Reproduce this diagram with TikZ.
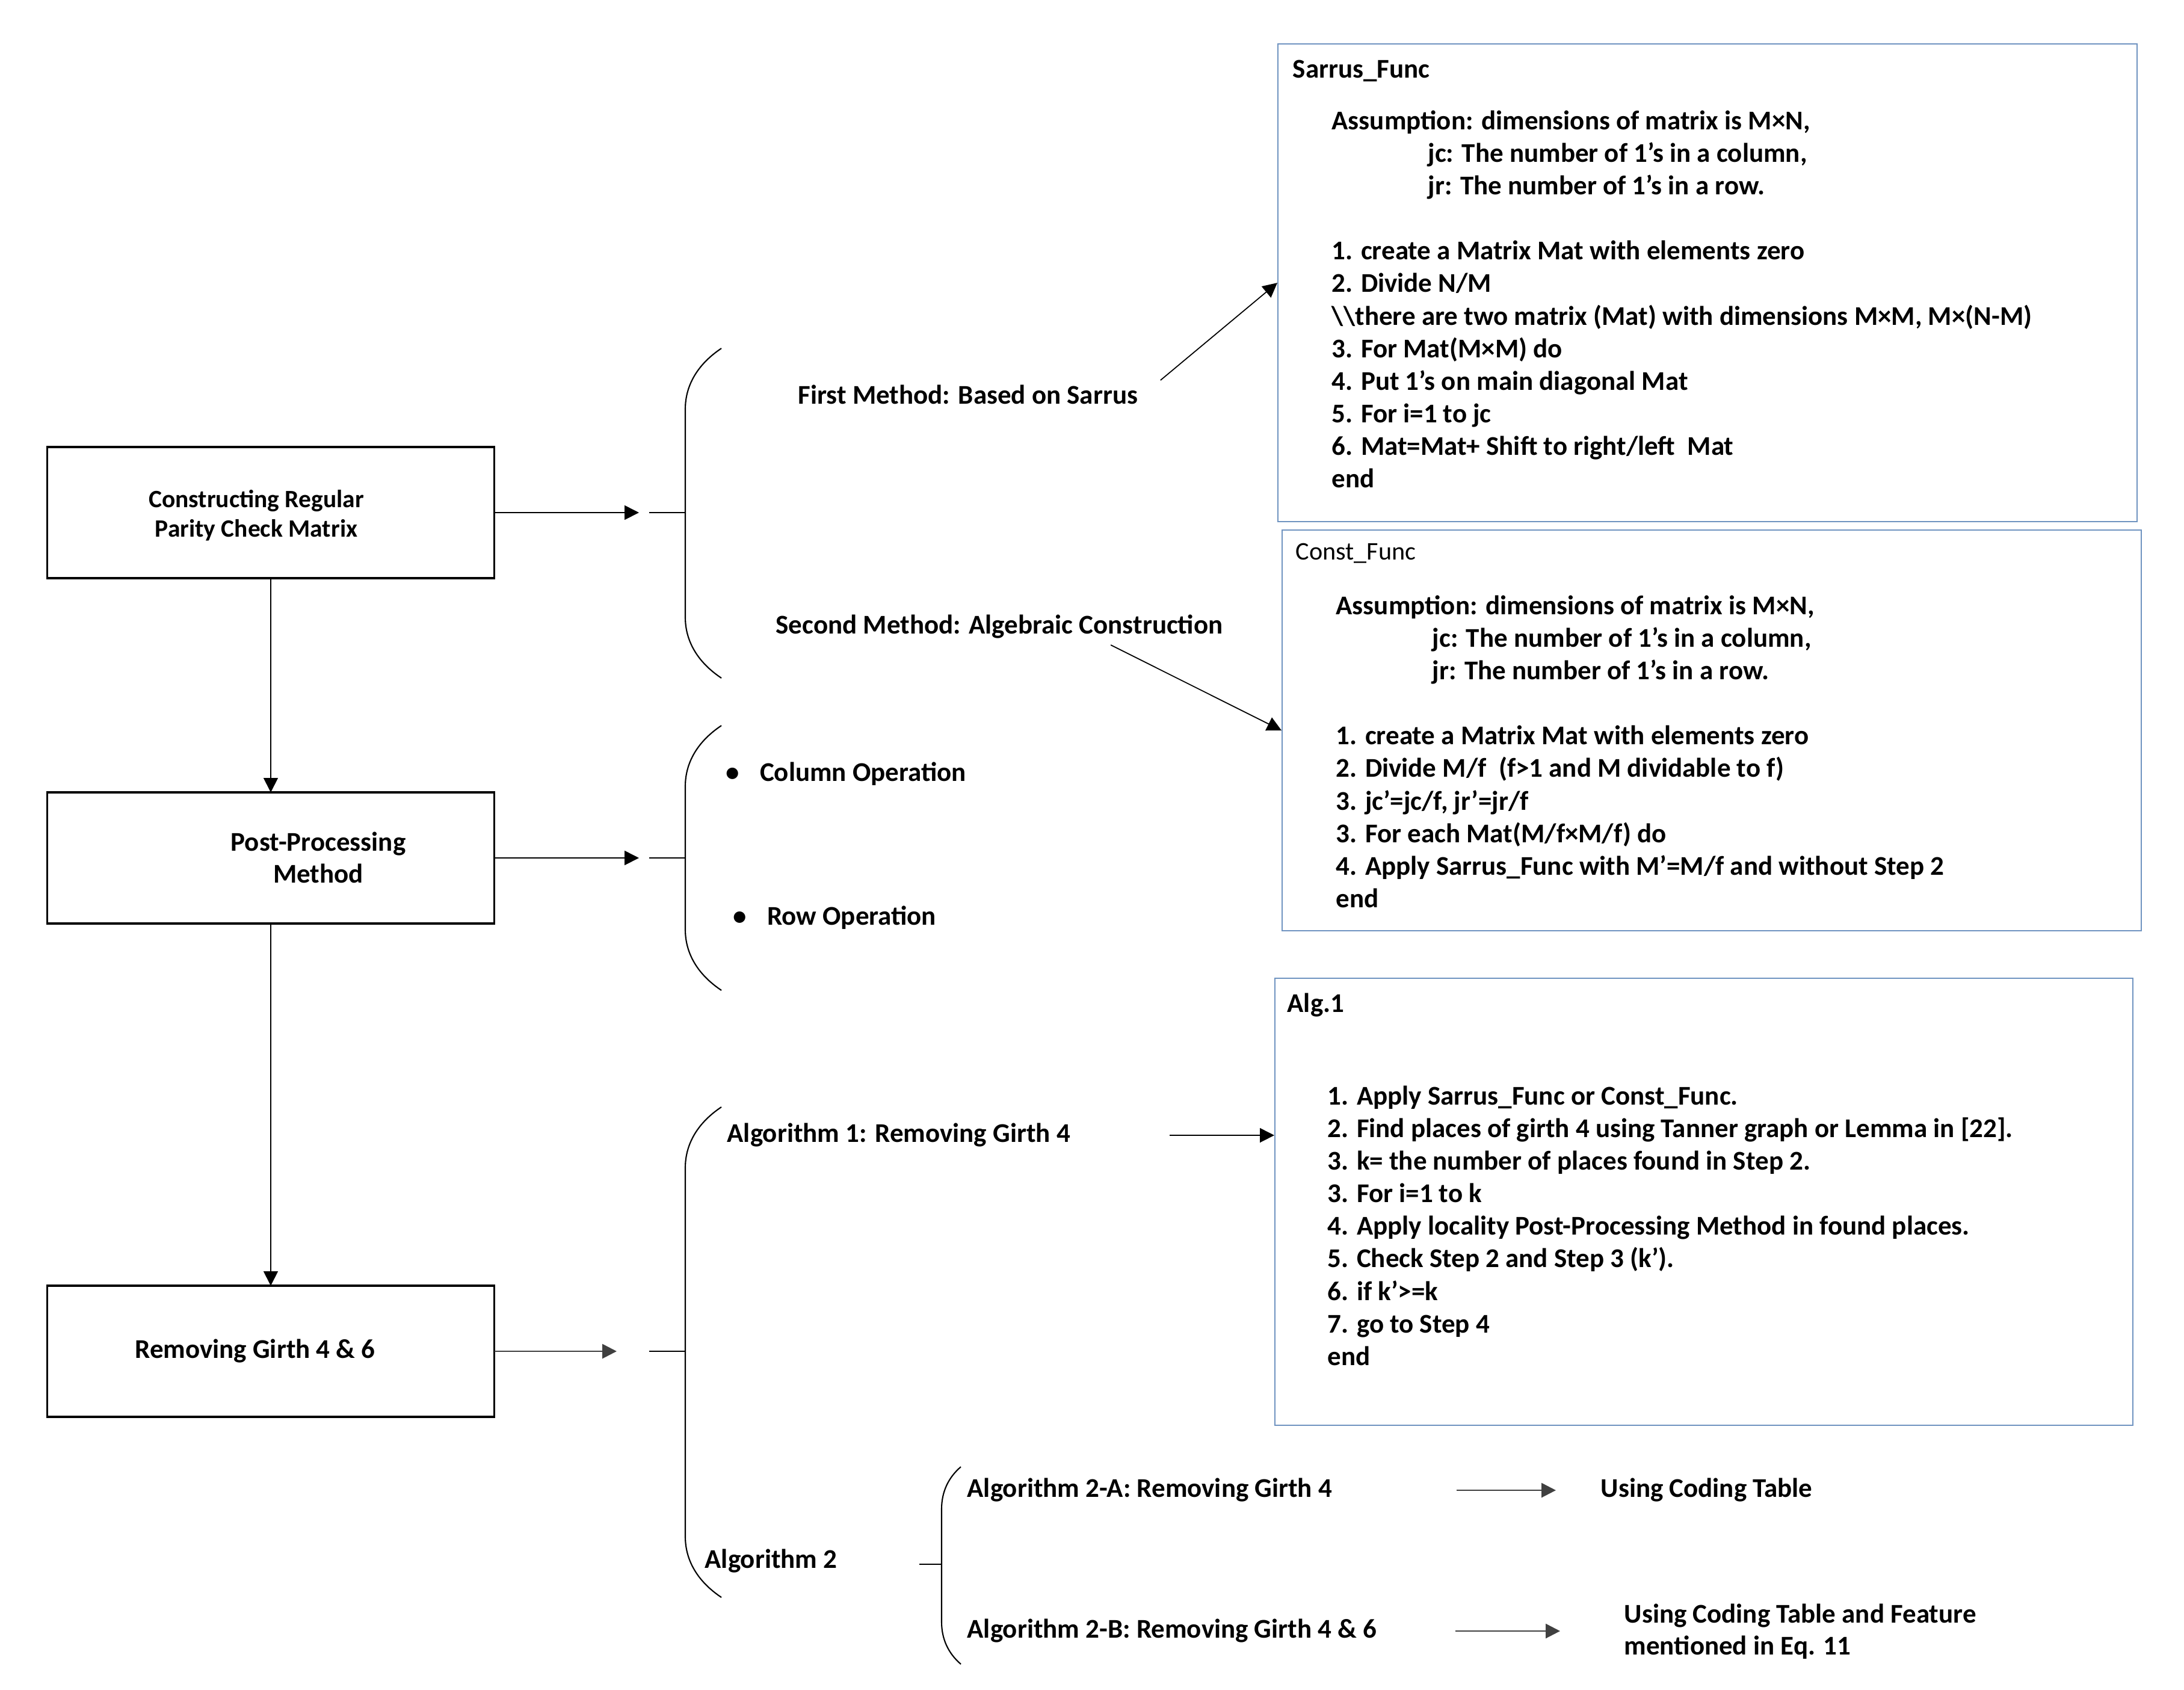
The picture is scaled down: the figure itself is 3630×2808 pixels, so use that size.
\documentclass[tikz,border=0pt]{standalone}
\usepackage{fontspec}
\setmainfont{Carlito}
\usetikzlibrary{arrows.meta, positioning}
\definecolor{pcBlue}{HTML}{6F93C0}
\definecolor{pcShade}{HTML}{404040}
\tikzset{
  mainbox/.style={draw, line width=1pt, outer sep=0pt, minimum width=74.3mm, minimum height=21.8mm},
  algbox/.style={draw=pcBlue, line width=0.6pt, anchor=north west, inner sep=0pt},
  lbl/.style={font=\fontsize{12.8}{15.4}\selectfont\bfseries, anchor=west, inner sep=0pt,
    text height=3.2mm, text depth=0.9mm},
  mlbl/.style={font=\fontsize{12.8}{15}\selectfont\bfseries, inner sep=0pt, align=center},
  body/.style={font=\fontsize{12.8}{15.4}\selectfont\bfseries, anchor=north west,
    align=left, inner sep=0pt},
  link/.style={-{Triangle[length=2.4mm, width=2.4mm]}, line width=0.5pt},
  glink/.style={link, line width=0.8pt, pcShade},
  stub/.style={line width=0.5pt},
  bracket/.style={line width=0.6pt}
}
\begin{document}
\begin{tikzpicture}[x=0.1mm, y=-0.1mm]
  \useasboundingbox (0,0) rectangle (3630,2808);

  % left column
  \node[mainbox] (cons) at (450,852) {};
  \node[mainbox, below=35.6mm of cons] (post) {};
  \node[mainbox, below=60.2mm of post] (rem) {};
  \node[mlbl, font=\fontsize{11.8}{13.9}\selectfont\bfseries] (cons-t) at (426,857)
    {Constructing Regular\\Parity Check Matrix};
  \node[mlbl] (post-t) at (529,1425) {Post-Processing\\Method};
  \node[mlbl] (rem-t) at (424,2245) {Removing Girth 4 \& 6};
  \draw[link] (cons) -- (post);
  \draw[link] (post) -- (rem);

  % brace points
  \coordinate (b1) at (cons.east -| 1139,0);
  \coordinate (b2) at (post.east -| 1139,0);
  \coordinate (b3) at (rem.east -| 1139,0);
  \coordinate (b4) at (1565,2600);
  \draw[link] (cons.east) -- ([xshift=-7.7mm]b1);
  \draw[link] (post.east) -- ([xshift=-7.7mm]b2);
  \draw[glink] (rem.east) -- ([xshift=-11.4mm]b3);
  \draw[stub] ([xshift=-6mm]b1) -- (b1);
  \draw[stub] ([xshift=-6mm]b2) -- (b2);
  \draw[stub] ([xshift=-6mm]b3) -- (b3);
  \draw[stub] ([xshift=-3.7mm]b4) -- (b4);

  \draw[bracket] (1199,579) .. controls (1160,605) and (1139,640) .. (1139,680)
    -- (1139,1026) .. controls (1139,1066) and (1160,1101) .. (1199,1127);
  \draw[bracket] (1199,1206) .. controls (1160,1232) and (1139,1267) .. (1139,1307)
    -- (1139,1545) .. controls (1139,1585) and (1160,1620) .. (1199,1646);
  \draw[bracket] (1199,1840) .. controls (1160,1866) and (1139,1901) .. (1139,1941)
    -- (1139,2554) .. controls (1139,2594) and (1160,2629) .. (1199,2655);
  \draw[bracket] (1597,2438) .. controls (1576,2456) and (1565,2480) .. (1565,2508)
    -- (1565,2696) .. controls (1565,2724) and (1576,2748) .. (1597,2766);

  % branch labels
  \node[lbl] (fm) at (1326,660) {First Method: Based on Sarrus};
  \node[lbl] (sm) at (1289,1042) {Second Method: Algebraic Construction};
  \node[lbl] (colop) at (1206,1287) {\textbullet\hspace{3.4mm}Column Operation};
  \node[lbl] (rowop) at (1218,1526) {\textbullet\hspace{3.4mm}Row Operation};
  \node[lbl] (a1) at (1208,1887) {Algorithm 1: Removing Girth 4};
  \node[lbl] (a2) at (1171,2595) {Algorithm 2};
  \node[lbl] (a2a) at (1607,2477) {Algorithm 2-A: Removing Girth 4};
  \node[lbl] (a2b) at (1607,2711) {Algorithm 2-B: Removing Girth 4 \& 6};
  \node[lbl] (ct1) at (2660,2477) {Using Coding Table};
  \node[mlbl, font=\fontsize{12.8}{15.2}\selectfont\bfseries, align=left, anchor=west] (ct2) at (2699,2712)
    {Using Coding Table and Feature\\mentioned in Eq. 11};

  % algorithm boxes
  \node[algbox, minimum width=142.8mm, minimum height=79.4mm] (sarrus) at (2123,72) {};
  \node[algbox, minimum width=142.8mm, minimum height=66.6mm] (const) at (2130,880) {};
  \node[algbox, minimum width=142.6mm, minimum height=74.3mm] (alg) at (2118,1625) {};

  \node[lbl] (sarrus-t) at (2148,118) {Sarrus\_Func};
  \node[body] (sarrus-b) at (2213,183) {Assumption: dimensions of matrix is M×N,\\
    \hspace*{16mm}jc: The number of 1's in a column,\\
    \hspace*{16mm}jr: The number of 1's in a row.\\[15.4pt]
    1. create a Matrix Mat with elements zero\\
    2. Divide N/M\\
    \textbackslash\textbackslash there are two matrix (Mat) with dimensions M×M, M×(N-M)\\
    3. For Mat(M×M) do\\
    4. Put 1's on main diagonal Mat\\
    5. For i=1 to jc\\
    6. Mat=Mat+ Shift to right/left~ Mat\\
    end};

  \node[lbl, font=\fontsize{12}{15.4}\selectfont] (const-t) at (2153,919) {Const\_Func};
  \node[body] (const-b) at (2220,989) {Assumption: dimensions of matrix is M×N,\\
    \hspace*{16mm}jc: The number of 1's in a column,\\
    \hspace*{16mm}jr: The number of 1's in a row.\\[15.4pt]
    1. create a Matrix Mat with elements zero\\
    2. Divide M/f~ (f>1 and M dividable to f)\\
    3. jc’=jc/f, jr’=jr/f\\
    3. For each Mat(M/f×M/f) do\\
    4. Apply Sarrus\_Func with M’=M/f and without Step 2\\
    end};

  \node[lbl] (alg-t) at (2139,1671) {Alg.1};
  \node[body] (alg-b) at (2206,1804) {1. Apply Sarrus\_Func or Const\_Func.\\
    2. Find places of girth 4 using Tanner graph or Lemma in [22].\\
    3. k= the number of places found in Step 2.\\
    3. For i=1 to k\\
    4. Apply locality Post-Processing Method in found places.\\
    5. Check Step 2 and Step 3 (k’).\\
    6. if k’>=k\\
    7. go to Step 4\\
    end};

  % branch arrows
  \draw[link] ([xshift=3.7mm, yshift=2.8mm]fm.east) -- (sarrus.west);
  \draw[link] ([xshift=18.5mm, yshift=-3mm]sm.center) -- (const.west);
  \draw[link] ([xshift=16.5mm]a1.east) -- (a1.east -| alg.west);
  \draw[glink] ([xshift=20.6mm]a2a.east) -- ([xshift=-7.4mm]ct1.west);
  \draw[glink] ([xshift=13mm]a2b.east) -- ([xshift=-10.6mm]ct2.west |- a2b.east);
\end{tikzpicture}
\end{document}
